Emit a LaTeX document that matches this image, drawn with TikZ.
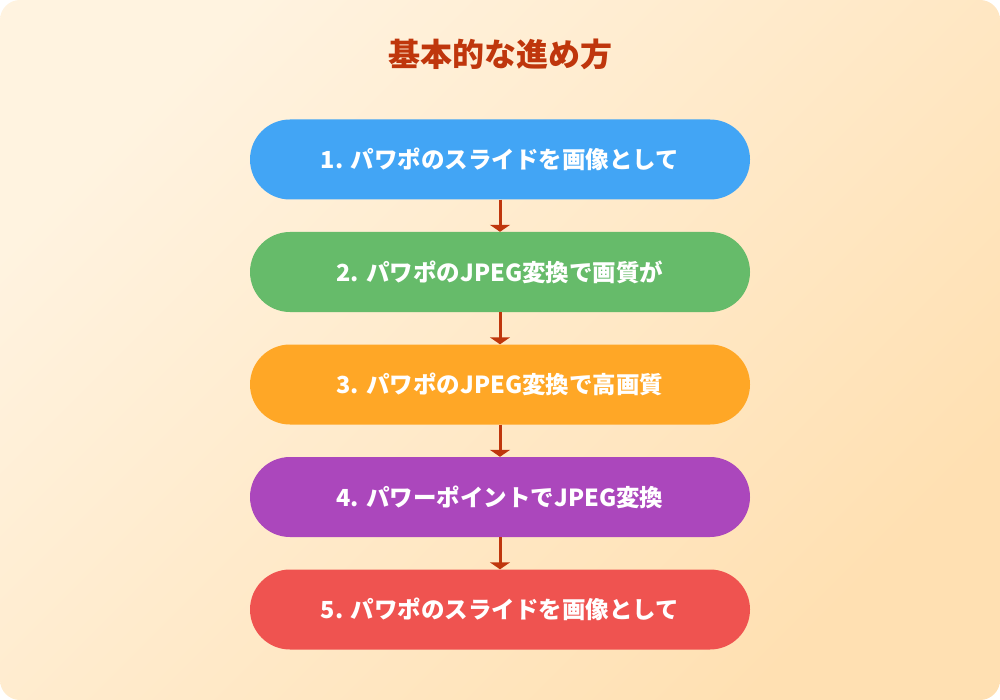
\documentclass[tikz,border=0pt]{standalone}
\usepackage{fontspec}
\setmainfont{Noto Sans CJK JP}
\usetikzlibrary{arrows.meta}
\definecolor{bgA}{HTML}{FFF3E0}
\definecolor{bgB}{HTML}{FFE0B2}
\definecolor{ttl}{HTML}{BF360C}
\definecolor{cA}{HTML}{42A5F5}
\definecolor{cB}{HTML}{66BB6A}
\definecolor{cC}{HTML}{FFA726}
\definecolor{cD}{HTML}{AB47BC}
\definecolor{cE}{HTML}{EF5350}
\tikzset{
  stepbox/.style={rectangle, rounded corners=40pt, minimum width=500pt, minimum height=80pt, inner sep=0pt, text=white, font=\fontsize{23.5}{28}\selectfont\bfseries},
  flow/.style={draw=ttl, line width=3pt, -{Triangle[width=20pt,length=7pt]}}
}
\begin{document}
\begin{tikzpicture}[x=1pt,y=-1pt]
\useasboundingbox (0,0) rectangle (1000,700);
\shade[rounded corners=20pt, shading=axis, left color=bgA, right color=bgB, shading angle=45] (0,0) rectangle (1000,700);
\node[text=ttl, font=\fontsize{32}{38}\selectfont\bfseries] (title) at (500,54) {基本的な進め方};
\node[stepbox, fill=cA] (s1) at (500,159.5) {1. パワポのスライドを画像として};
\node[stepbox, fill=cB] (s2) at (500,272) {2. パワポのJPEG変換で画質が};
\node[stepbox, fill=cC] (s3) at (500,384.5) {3. パワポのJPEG変換で高画質};
\node[stepbox, fill=cD] (s4) at (500,497) {4. パワーポイントでJPEG変換};
\node[stepbox, fill=cE] (s5) at (500,609.5) {5. パワポのスライドを画像として};
\draw[flow] (s1.south) -- (s2.north);
\draw[flow] (s2.south) -- (s3.north);
\draw[flow] (s3.south) -- (s4.north);
\draw[flow] (s4.south) -- (s5.north);
\end{tikzpicture}
\end{document}
